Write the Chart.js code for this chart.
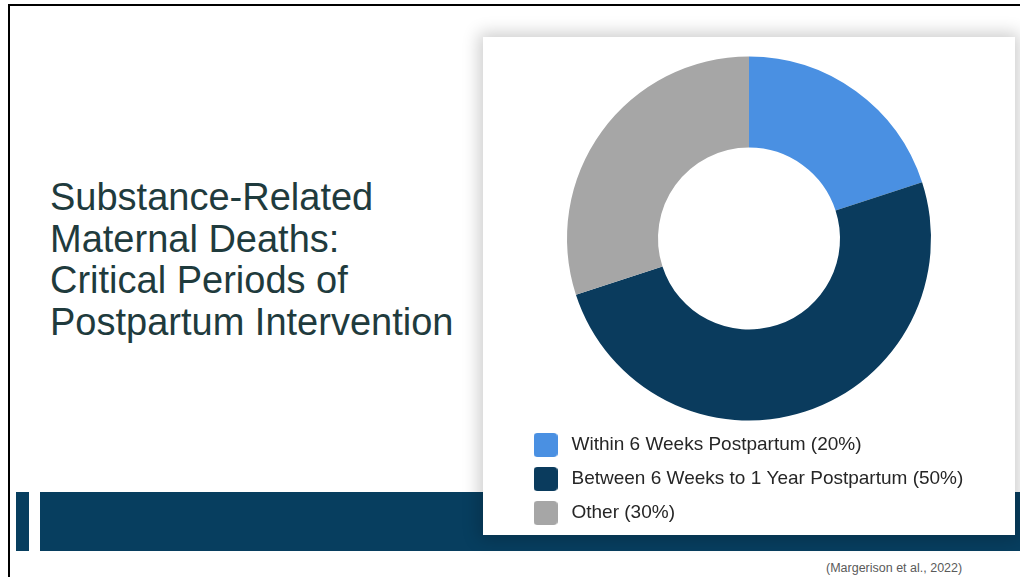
<!DOCTYPE html>
<html lang="en">
<head>
<meta charset="utf-8">
<title>Substance-Related Maternal Deaths</title>
<script src="https://cdn.jsdelivr.net/npm/chart.js@4.4.1/dist/chart.umd.min.js"></script>
<style>
  html, body { margin: 0; padding: 0; background: #ffffff; }
  body { width: 1020px; height: 577px; position: relative; overflow: hidden;
         font-family: "Liberation Sans", Arial, Helvetica, sans-serif; }
  .rule-top  { position: absolute; left: 8px; top: 4px; width: 1012px; height: 2px; background: #000; }
  .rule-left { position: absolute; left: 8px; top: 4px; width: 2px; height: 573px; background: #000; }
  .band { position: absolute; top: 492px; height: 59px; background: #073e5f; }
  .band.small { left: 16px; width: 13px; }
  .band.main  { left: 40px; width: 980px; }
  .headline { position: absolute; left: 50px; top: 177px; margin: 0;
              font-size: 38px; line-height: 41.7px; font-weight: normal; color: #1f3b3d; }
  .card { position: absolute; left: 483px; top: 37px; width: 532px; height: 498px;
          background: #fff; box-shadow: 0 0 16px 4px rgba(0,0,0,0.2); }
  .source { position: absolute; left: 826px; top: 561px; font-size: 12.5px; color: #5a5a5a; white-space: nowrap; }
</style>
</head>
<body>
<div class="rule-top"></div>
<div class="rule-left"></div>
<div class="band small"></div>
<div class="band main"></div>
<h1 class="headline">Substance-Related<br>Maternal Deaths:<br>Critical Periods of<br>Postpartum Intervention</h1>
<div class="card"><canvas id="periods"></canvas></div>
<div class="source">(Margerison et al., 2022)</div>

<script>
// Timing of substance-related maternal deaths (share of deaths, %)
const categories = [
  'Within 6 Weeks Postpartum (20%)',
  'Between 6 Weeks to 1 Year Postpartum (50%)',
  'Other (30%)'
];
const shares = [20, 50, 30];
const sliceColors = ['#4a90e2', '#0a3b5d', '#a6a6a6'];

// Rounded square swatch used as the legend marker
function swatch(color) {
  const c = document.createElement('canvas');
  c.width = 24; c.height = 24;
  const g = c.getContext('2d');
  const r = 4, s = 24;
  g.fillStyle = color;
  g.beginPath();
  g.moveTo(r, 0);
  g.lineTo(s - r, 0); g.quadraticCurveTo(s, 0, s, r);
  g.lineTo(s, s - r); g.quadraticCurveTo(s, s, s - r, s);
  g.lineTo(r, s);     g.quadraticCurveTo(0, s, 0, s - r);
  g.lineTo(0, r);     g.quadraticCurveTo(0, 0, r, 0);
  g.closePath();
  g.fill();
  return c;
}

new Chart(document.getElementById('periods'), {
  type: 'doughnut',
  data: {
    labels: categories,
    datasets: [{
      data: shares,
      backgroundColor: sliceColors,
      borderWidth: 0,
      hoverOffset: 0
    }]
  },
  options: {
    responsive: true,
    maintainAspectRatio: false,
    animation: false,
    cutout: '50%',
    layout: { padding: { left: 31, right: 31, top: 19.5, bottom: 2.5 } },
    plugins: {
      tooltip: { enabled: false },
      legend: {
        position: 'bottom',
        align: 'start',
        labels: {
          usePointStyle: true,
          pointStyleWidth: 33,
          padding: 15,
          color: '#262626',
          font: { family: '"Liberation Sans", Arial, sans-serif', size: 19 },
          generateLabels(chart) {
            const ds = chart.data.datasets[0];
            return chart.data.labels.map((text, i) => ({
              text,
              fillStyle: ds.backgroundColor[i],
              strokeStyle: ds.backgroundColor[i],
              lineWidth: 0,
              pointStyle: swatch(ds.backgroundColor[i]),
              fontColor: '#262626',
              hidden: !chart.getDataVisibility(i),
              index: i
            }));
          }
        }
      }
    }
  }
});
</script>
</body>
</html>
